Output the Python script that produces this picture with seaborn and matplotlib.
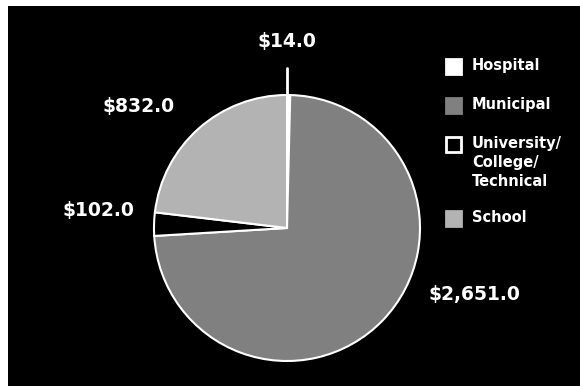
import matplotlib
matplotlib.use("Agg")
import matplotlib.pyplot as plt
from matplotlib.patches import Rectangle
import seaborn as sns

# Spending by facility type
categories = ["Hospital", "Municipal", "University/\nCollege/\nTechnical", "School"]
values = [14.0, 2651.0, 102.0, 832.0]
value_labels = ["$14.0", "$2,651.0", "$102.0", "$832.0"]

sns.set_theme(style="white")
plt.rcParams["font.family"] = ["DejaVu Sans"]

colors = ["#ffffff", "#808080", "#000000", "#b3b3b3"]
# label anchor points (pie radius = 1)
label_pos = [(0.0, 1.40), (1.406, -0.50), (-1.417, 0.135), (-1.117, 0.917)]
# legend row tops, in pixels from the top of the figure
legend_rows = [59, 98, 137, 211]

W, H = 580, 386
fig = plt.figure(figsize=(W / 100, H / 100), dpi=100, facecolor="white")
fig.patches.append(Rectangle((8 / W, 0), 1 - 8 / W, 1 - 6 / H,
                             transform=fig.transFigure, facecolor="black",
                             edgecolor="none", zorder=-10))

ax = fig.add_axes([154 / W, 25 / H, 266 / W, 266 / H])
ax.set_facecolor("none")
wedges, _ = ax.pie(values, colors=colors, startangle=90, counterclock=False,
                   radius=1.0,
                   wedgeprops=dict(edgecolor="white", linewidth=1.5))
ax.set_xlim(-1, 1)
ax.set_ylim(-1, 1)
ax.set_aspect("equal")
ax.axis("off")

# leader line for the thin Hospital slice
ax.plot([0, 0], [1.0, 1.2], color="white", lw=2, clip_on=False)

for (x, y), txt in zip(label_pos, value_labels):
    ax.text(x, y, txt, color="white", fontsize=13.5, fontweight="bold",
            ha="center", va="center", clip_on=False)

# legend: square swatch + label
sw = 15
for top, c, name in zip(legend_rows, colors, categories):
    edge = "white" if c == "#000000" else c
    fig.patches.append(Rectangle((446 / W, 1 - (top + sw) / H), sw / W, sw / H,
                                 transform=fig.transFigure, facecolor=c,
                                 edgecolor=edge, linewidth=2, zorder=2))
    fig.text(472 / W, 1 - (top - 1) / H, name, color="white",
             fontsize=10.5, fontweight="bold", ha="left", va="top",
             linespacing=1.33, transform=fig.transFigure)

fig.savefig("out.png", dpi=100, facecolor="white")
